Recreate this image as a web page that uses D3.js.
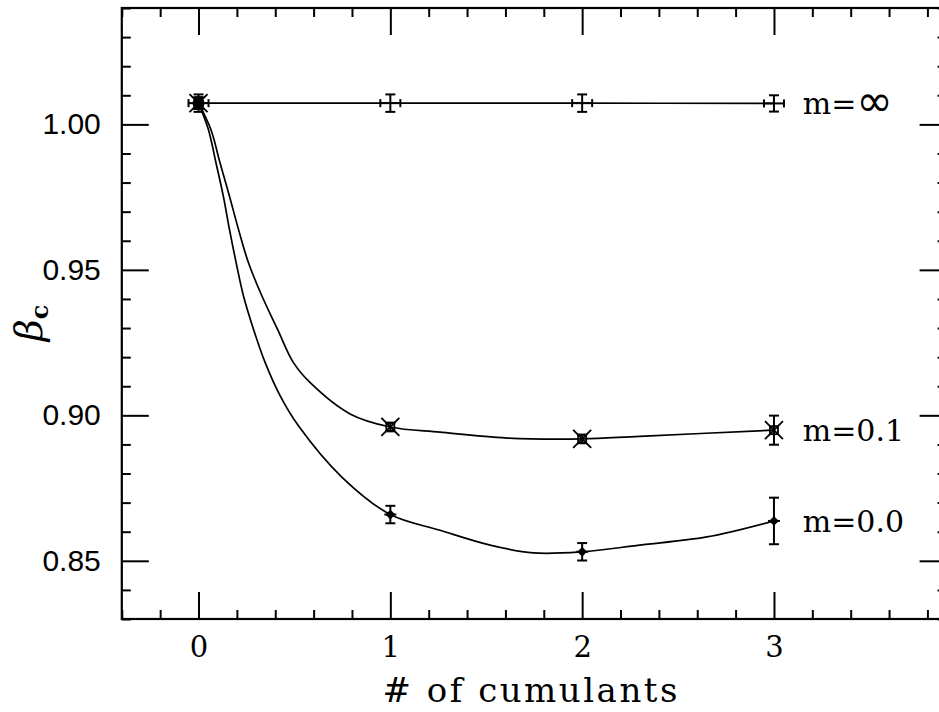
<!DOCTYPE html>
<html><head><meta charset="utf-8">
<script src="https://cdn.jsdelivr.net/npm/d3@7"></script>
<style>body{margin:0;background:#fff} svg{display:block}</style>
</head><body>
<svg id="c" width="939" height="712"></svg>
<script>
// ---- data ----
const cumulants = [0, 1, 2, 3];
const seriesPrefix = "m=";
const seriesValues = ["\u221E", "0.1", "0.0"];
const betaInf = [1.0073, 1.0073, 1.0073, 1.0072];
const errInf  = [0.003, 0.003, 0.003, 0.0028];
const beta01  = [1.0073, 0.8960, 0.8919, 0.8949];
const err01   = [0.002, 0.0015, 0.0015, 0.005];
const beta00  = [1.0073, 0.8659, 0.8531, 0.8637];
const err00   = [0.002, 0.003, 0.003, 0.008];
// fitted curves
const curve01X = [0, 0.064, 0.112, 0.161, 0.208, 0.26, 0.33, 0.411, 0.494, 0.581, 0.79, 1, 1.259, 1.607, 2, 2.3, 3];
const curve01Y = [1.0073, 0.9983, 0.9868, 0.9754, 0.964, 0.9525, 0.9411, 0.9297, 0.9182, 0.9113, 0.9005, 0.896, 0.8942, 0.8922, 0.8919, 0.8928, 0.8949];
const curve00X = [0, 0.051, 0.091, 0.129, 0.161, 0.196, 0.234, 0.286, 0.347, 0.425, 0.52, 0.747, 1, 1.259, 1.52, 1.746, 2, 2.3, 2.65, 3];
const curve00Y = [1.0073, 0.9983, 0.9868, 0.9754, 0.964, 0.9525, 0.9411, 0.9297, 0.9182, 0.9068, 0.8965, 0.8788, 0.8659, 0.8605, 0.8554, 0.8527, 0.8531, 0.8554, 0.8582, 0.8637];
const xMajorTicks = [0, 1, 2, 3];
const yMajorTicks = [0.85, 0.90, 0.95, 1.00];

// ---- layout ----
const svg = d3.select("#c");
const L = 121.8, R = 946.6, T = 8, B = 619;
const x = d3.scaleLinear().domain([-0.4, 3.9]).range([L, R]);
const y = d3.scaleLinear().domain([0.83, 1.04]).range([B, T]);

const xMinor = d3.range(-4, 40, 2).map(v => v / 10).filter(v => !xMajorTicks.some(m => Math.abs(m - v) < 1e-9));
const yMinor = d3.range(83, 105).map(v => v / 100).filter(v => !yMajorTicks.some(m => Math.abs(m - v) < 1e-9));

function styleAxis(g) {
  g.select(".domain").remove();
  g.selectAll(".tick line").attr("stroke", "#000").attr("stroke-width", 2);
}
const MAJ = 27, MIN = 9;
// bottom
svg.append("g").attr("transform", `translate(0,${B})`)
  .call(d3.axisBottom(x).tickValues(xMajorTicks).tickSize(-MAJ).tickPadding(17).tickFormat(d3.format("d")))
  .call(styleAxis)
  .call(g => g.selectAll("text").attr("font-family", "DejaVu Serif").attr("font-size", 29).attr("fill", "#000"));
svg.append("g").attr("transform", `translate(0,${B})`)
  .call(d3.axisBottom(x).tickValues(xMinor).tickSize(-MIN).tickFormat("")).call(styleAxis);
// top
svg.append("g").attr("transform", `translate(0,${T})`)
  .call(d3.axisTop(x).tickValues(xMajorTicks).tickSize(-MAJ).tickFormat("")).call(styleAxis);
svg.append("g").attr("transform", `translate(0,${T})`)
  .call(d3.axisTop(x).tickValues(xMinor).tickSize(-MIN).tickFormat("")).call(styleAxis);
// left
svg.append("g").attr("transform", `translate(${L},0)`)
  .call(d3.axisLeft(y).tickValues(yMajorTicks).tickSize(-MAJ).tickPadding(21).tickFormat(d3.format(".2f")))
  .call(styleAxis)
  .call(g => g.selectAll("text").attr("font-family", "Liberation Sans").attr("font-size", 30).attr("fill", "#000"));
svg.append("g").attr("transform", `translate(${L},0)`)
  .call(d3.axisLeft(y).tickValues(yMinor).tickSize(-MIN).tickFormat("")).call(styleAxis);
// right
svg.append("g").attr("transform", `translate(${R},0)`)
  .call(d3.axisRight(y).tickValues(yMajorTicks).tickSize(-MAJ).tickFormat("")).call(styleAxis);
svg.append("g").attr("transform", `translate(${R},0)`)
  .call(d3.axisRight(y).tickValues(yMinor).tickSize(-MIN).tickFormat("")).call(styleAxis);

// frame
svg.append("rect").attr("x", L).attr("y", T).attr("width", R - L).attr("height", B - T)
  .attr("fill", "none").attr("stroke", "#000").attr("stroke-width", 2.2);

// ---- curves ----
const line = d3.line().x(d => x(d[0])).y(d => y(d[1])).curve(d3.curveCatmullRom.alpha(0.5));
const plot = svg.append("g");
plot.append("path").datum(d3.zip(cumulants, betaInf)).attr("d", line)
  .attr("fill", "none").attr("stroke", "#000").attr("stroke-width", 1.7);
plot.append("path").datum(d3.zip(curve01X, curve01Y)).attr("d", line)
  .attr("fill", "none").attr("stroke", "#000").attr("stroke-width", 1.7);
plot.append("path").datum(d3.zip(curve00X, curve00Y)).attr("d", line)
  .attr("fill", "none").attr("stroke", "#000").attr("stroke-width", 1.7);

// ---- error bars & markers ----
function errBars(vals, errs, capW) {
  cumulants.forEach((c, i) => {
    const cx = x(c), y1 = y(vals[i] + errs[i]), y2 = y(vals[i] - errs[i]);
    const g = plot.append("g").attr("stroke", "#000").attr("stroke-width", 2).attr("fill", "none");
    g.append("line").attr("x1", cx).attr("x2", cx).attr("y1", y1).attr("y2", y2);
    g.append("line").attr("x1", cx - capW).attr("x2", cx + capW).attr("y1", y1).attr("y2", y1);
    g.append("line").attr("x1", cx - capW).attr("x2", cx + capW).attr("y1", y2).attr("y2", y2);
  });
}
errBars(betaInf, errInf, 5);
errBars(beta01, err01, 5);
errBars(beta00, err00, 5);

// m=inf : horizontal capped bar (cross)
cumulants.forEach((c, i) => {
  const cx = x(c), cy = y(betaInf[i]);
  const g = plot.append("g").attr("stroke", "#000").attr("stroke-width", 2);
  g.append("line").attr("x1", cx - 10).attr("x2", cx + 10).attr("y1", cy).attr("y2", cy);
  g.append("line").attr("x1", cx - 10).attr("x2", cx - 10).attr("y1", cy - 4).attr("y2", cy + 4);
  g.append("line").attr("x1", cx + 10).attr("x2", cx + 10).attr("y1", cy - 4).attr("y2", cy + 4);
});
// m=0.1 : square with diagonal spokes
cumulants.forEach((c, i) => {
  const cx = x(c), cy = y(beta01[i]);
  const g = plot.append("g").attr("stroke", "#000").attr("stroke-width", 1.8).attr("fill", "none");
  g.append("rect").attr("x", cx - 4).attr("y", cy - 4).attr("width", 8).attr("height", 8);
  g.append("line").attr("x1", cx - 9).attr("y1", cy - 9).attr("x2", cx + 9).attr("y2", cy + 9);
  g.append("line").attr("x1", cx - 9).attr("y1", cy + 9).attr("x2", cx + 9).attr("y2", cy - 9);
});
// m=0.0 : small filled diamond with short horizontal bar
cumulants.forEach((c, i) => {
  const cx = x(c), cy = y(beta00[i]);
  const g = plot.append("g");
  g.append("path").attr("d", `M${cx},${cy - 4}L${cx + 4},${cy}L${cx},${cy + 4}L${cx - 4},${cy}Z`)
    .attr("fill", "#000").attr("stroke", "#000").attr("stroke-width", 1.2);
  g.append("line").attr("x1", cx - 6).attr("x2", cx + 6).attr("y1", cy).attr("y2", cy)
    .attr("stroke", "#000").attr("stroke-width", 2);
});
// blob at x=0 where all series overlap
plot.append("circle").attr("cx", x(cumulants[0])).attr("cy", y(betaInf[0])).attr("r", 6).attr("fill", "#000");

// ---- series labels ----
const lastVals = [betaInf[3], beta01[3], beta00[3]];
seriesValues.forEach((s, i) => {
  const t = svg.append("text").attr("x", x(3.15)).attr("y", y(lastVals[i])).attr("dy", "0.36em")
    .attr("font-family", "DejaVu Serif").attr("font-size", 30).attr("fill", "#000");
  t.append("tspan").text(seriesPrefix);
  if (s === "\u221E") {
    t.append("tspan").attr("font-family", "DejaVu Sans").attr("font-size", 44).attr("dy", 2).text(s);
  } else {
    t.append("tspan").text(s);
  }
});

// ---- axis titles ----
svg.append("text").attr("x", (L + R) / 2 - 3).attr("y", 702).attr("text-anchor", "middle")
  .attr("font-family", "DejaVu Serif").attr("font-size", 34).attr("letter-spacing", 2.5)
  .attr("fill", "#000").text("# of cumulants");
const yt = svg.append("text").attr("transform", "translate(42,323) rotate(-90)")
  .attr("text-anchor", "middle").attr("font-family", "DejaVu Serif").attr("fill", "#000");
yt.append("tspan").attr("font-size", 38).attr("font-style", "italic").text("\u03B2");
yt.append("tspan").attr("font-size", 24).attr("dy", 6).attr("font-weight", "bold").text("c");
</script>
</body></html>
